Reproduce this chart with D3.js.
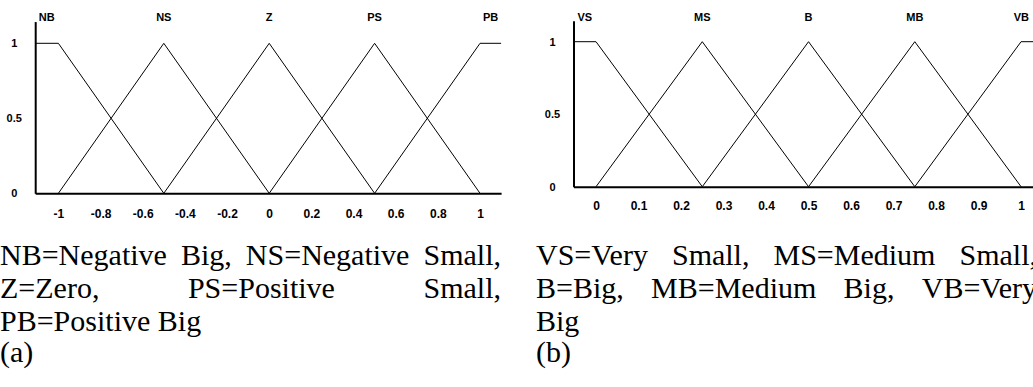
<!DOCTYPE html>
<html>
<head>
<meta charset="utf-8">
<script src="https://cdn.jsdelivr.net/npm/d3@7"></script>
<style>
  html, body { margin: 0; padding: 0; background: #fff; }
  svg { display: block; }
  .axis text { font-family: "Liberation Sans", Arial, sans-serif; font-weight: bold; fill: #000; }
  .term { font-family: "Liberation Sans", Arial, sans-serif; font-weight: bold; font-size: 11px; fill: #000; }
  .caption { font-family: "Liberation Serif", "Times New Roman", serif; font-size: 30px; fill: #000; }
</style>
</head>
<body>
<svg id="fig" width="1033" height="387"></svg>
<script>
// (a) input universe: linguistic terms, centres of the triangular sets, ticks
const termsA = ["NB", "NS", "Z", "PS", "PB"];
const centersA = [-1, -0.5, 0, 0.5, 1];
const universeA = [-1.11, 1.1];
const xTicksA = [-1, -0.8, -0.6, -0.4, -0.2, 0, 0.2, 0.4, 0.6, 0.8, 1];
const captionA = ["NB=Negative Big, NS=Negative Small,", "Z=Zero, PS=Positive Small,", "PB=Positive Big"];
const tagA = "(a)";

// (b) output universe
const termsB = ["VS", "MS", "B", "MB", "VB"];
const centersB = [0, 0.25, 0.5, 0.75, 1];
const universeB = [-0.053, 1.05];
const xTicksB = [0, 0.1, 0.2, 0.3, 0.4, 0.5, 0.6, 0.7, 0.8, 0.9, 1];
const captionB = ["VS=Very Small, MS=Medium Small,", "B=Big, MB=Medium Big, VB=Very", "Big"];
const tagB = "(b)";

// membership axis
const yTicks = [0, 0.5, 1];
const yTop = 1.145;

const W = 1033, H = 387;
const svg = d3.select("#fig");

// vertices of the i-th set: shoulders at both ends, triangles in between
function setVertices(centers, universe, i) {
  const n = centers.length;
  if (i === 0) return [[universe[0], 1], [centers[0], 1], [centers[1], 0]];
  if (i === n - 1) return [[centers[n - 2], 0], [centers[n - 1], 1], [universe[1], 1]];
  return [[centers[i - 1], 0], [centers[i], 1], [centers[i + 1], 0]];
}

function drawPanel(p) {
  const x = d3.scaleLinear().domain(p.universe).range(p.xRange);
  const y = d3.scaleLinear().domain([0, yTop]).range(p.yRange);
  const g = svg.append("g");

  // membership functions
  const line = d3.line().x(d => x(d[0])).y(d => y(d[1]));
  p.terms.forEach((t, i) => {
    g.append("path")
      .attr("d", line(setVertices(p.centers, p.universe, i)))
      .attr("fill", "none")
      .attr("stroke", "#000")
      .attr("stroke-width", 1);
  });

  // term names above each set (centre of its core)
  p.terms.forEach((t, i) => {
    const n = p.centers.length;
    let core = p.centers[i];
    if (i === 0) core = (p.universe[0] + p.centers[0]) / 2;
    if (i === n - 1) core = (p.centers[n - 1] + p.universe[1]) / 2;
    const txt = g.append("text").attr("class", "term")
      .attr("y", p.termY).attr("text-anchor", "middle").text(t);
    const w = txt.node().getComputedTextLength();
    let cx = x(core);
    if (cx + w / 2 > W - 4) cx = W - 4 - w / 2;
    txt.attr("x", cx);
  });

  // x axis
  const gx = g.append("g").attr("class", "axis")
    .attr("transform", `translate(0,${y(0)})`)
    .call(d3.axisBottom(x).tickValues(p.xTicks).tickSize(0).tickSizeOuter(0)
      .tickPadding(p.xPad).tickFormat(d => String(d)));
  gx.select(".domain").attr("stroke", "#000").attr("stroke-width", 2);
  gx.selectAll("text").style("font-size", "12px");

  // y axis
  const gy = g.append("g").attr("class", "axis")
    .attr("transform", `translate(${x(p.universe[0])},0)`)
    .call(d3.axisLeft(y).tickValues(yTicks).tickSize(0).tickSizeOuter(0)
      .tickFormat(d => String(d)));
  gy.select(".domain").attr("stroke", "#000").attr("stroke-width", 2);
  gy.selectAll("text").style("font-size", "11px")
    .attr("text-anchor", "middle").attr("x", -21);
}

drawPanel({
  terms: termsA, centers: centersA, universe: universeA, xTicks: xTicksA,
  xRange: [35.2, 501.1], yRange: [193.3, 193.3 - yTop * 150],
  termY: 20.5, xPad: 16.5
});
drawPanel({
  terms: termsB, centers: centersB, universe: universeB, xTicks: xTicksB,
  xRange: [573.5, 1042.3], yRange: [186.7, 186.7 - yTop * 145],
  termY: 20.5, xPad: 15
});

// justified caption paragraphs
const baselines = [265, 298, 331];
const tagBaseline = 362;
function drawCaption(lines, tag, x0, width) {
  const g = svg.append("g");
  lines.forEach((ln, k) => {
    const words = ln.split(" ");
    const justify = k < lines.length - 1 && words.length > 1;
    const texts = words.map(w => g.append("text").attr("class", "caption")
      .attr("y", baselines[k]).text(w));
    const widths = texts.map(t => t.node().getComputedTextLength());
    const gap = justify ? (width - d3.sum(widths)) / (words.length - 1) : 7.5;
    let cx = x0;
    texts.forEach((t, j) => { t.attr("x", cx); cx += widths[j] + gap; });
  });
  g.append("text").attr("class", "caption").attr("x", x0).attr("y", tagBaseline).text(tag);
}
drawCaption(captionA, tagA, 0, 501);
drawCaption(captionB, tagB, 536, 501);
</script>
</body>
</html>
